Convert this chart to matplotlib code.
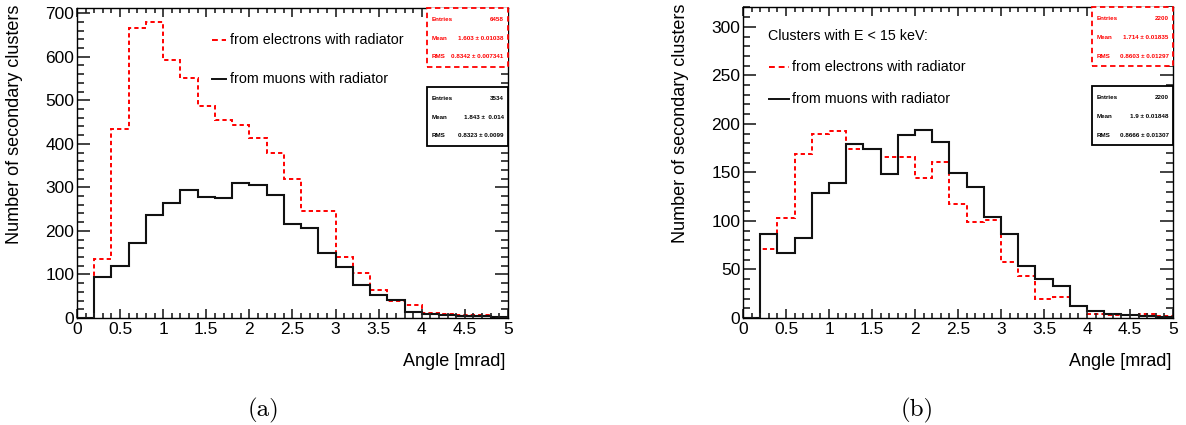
"""Secondary cluster angle distributions, electrons vs muons with radiator."""

import matplotlib

matplotlib.use("Agg")
import matplotlib.pyplot as plt
import numpy as np
from matplotlib.patches import Rectangle
from matplotlib.ticker import MultipleLocator

plt.rcParams["font.family"] = ["Liberation Sans", "DejaVu Sans"]

# -- Data ---------------------------------------------------------------------
BIN_EDGES = np.round(np.arange(0, 5.0001, 0.2), 2)

# (a) all clusters
ELECTRONS_A = [0, 136, 435, 666, 679, 593, 552, 487, 454, 443, 413, 378, 319,
               246, 246, 140, 103, 65, 40, 29, 11, 9, 7, 6, 2]
MUONS_A = [0, 93, 120, 172, 236, 264, 295, 279, 275, 311, 305, 283, 217,
           207, 150, 116, 76, 53, 41, 14, 10, 7, 4, 4, 2]

# (b) clusters with E < 15 keV
ELECTRONS_B = [0, 71, 103, 169, 190, 193, 174, 174, 166, 166, 144, 161, 117,
               99, 101, 58, 43, 20, 22, 12, 4, 3, 3, 4, 2]
MUONS_B = [0, 87, 67, 82, 129, 139, 179, 174, 148, 189, 194, 181, 149,
           135, 104, 87, 54, 40, 33, 12, 7, 4, 3, 2, 1]

STATS_E_A = [("Entries", "6458"), ("Mean", "1.603 \u00b1 0.01038"), ("RMS", "0.8342 \u00b1 0.007341")]
STATS_M_A = [("Entries", "3534"), ("Mean", "1.843 \u00b1  0.014"), ("RMS", "0.8323 \u00b1 0.0099")]
STATS_E_B = [("Entries", "2200"), ("Mean", "1.714 \u00b1 0.01835"), ("RMS", "0.8603 \u00b1 0.01297")]
STATS_M_B = [("Entries", "2200"), ("Mean", "1.9 \u00b1 0.01848"), ("RMS", "0.8666 \u00b1 0.01307")]

RED = "#ff0000"


def stat_box(ax, y0, y1, rows, color, dashed):
    x0 = 0.812
    ax.add_patch(Rectangle((x0, y0), 1.0 - x0, y1 - y0, transform=ax.transAxes,
                           facecolor="white", edgecolor=color, lw=1.3,
                           linestyle=(0, (3, 2)) if dashed else "-",
                           clip_on=False, zorder=5))
    h = y1 - y0
    for i, (name, val) in enumerate(rows):
        yy = y1 - h * (0.19 + 0.32 * i)
        ax.text(x0 + 0.01, yy, name, transform=ax.transAxes, fontsize=4.5,
                fontweight="bold", color=color, ha="left", va="center", zorder=6)
        ax.text(0.99, yy, val, transform=ax.transAxes, fontsize=4.5,
                fontweight="bold", color=color, ha="right", va="center", zorder=6)


def style_axes(ax, ymax, ymajor, yminor):
    ax.set_xlim(0, 5)
    ax.set_ylim(0, ymax)
    ax.xaxis.set_major_locator(MultipleLocator(0.5))
    ax.xaxis.set_minor_locator(MultipleLocator(0.1))
    ax.yaxis.set_major_locator(MultipleLocator(ymajor))
    ax.yaxis.set_minor_locator(MultipleLocator(yminor))
    ax.xaxis.set_major_formatter(matplotlib.ticker.FuncFormatter(lambda v, p: f"{v:g}"))
    ax.tick_params(which="both", direction="in", top=True, right=True,
                   labelsize=12.5, color="#222222", width=1.2)
    ax.tick_params(axis="y", which="major", length=9.4, pad=2)
    ax.tick_params(axis="y", which="minor", length=4.7)
    ax.tick_params(axis="x", which="major", length=6.7, pad=3)
    ax.tick_params(axis="x", which="minor", length=3.4)
    for sp in ax.spines.values():
        sp.set_linewidth(1.0)
    ax.text(0.995, -0.139, "Angle [mrad]", transform=ax.transAxes,
            fontsize=13, ha="right", va="center")
    ax.text(-0.145, 1.01, "Number of secondary clusters", transform=ax.transAxes,
            fontsize=13, rotation=90, ha="center", va="top")


def legend_entry(ax, x0, x1, y, label, color, dashed):
    ax.plot([x0, x1], [y, y], transform=ax.transAxes, color=color, lw=1.4,
            linestyle=(0, (3, 2)) if dashed else "-")
    ax.text(x1 + 0.008, y, label, transform=ax.transAxes, fontsize=10.3,
            ha="left", va="center")


fig = plt.figure(figsize=(11.86, 4.25), dpi=100)
ax_a = fig.add_axes([0.0649, 0.2518, 0.3634, 0.7294])
ax_b = fig.add_axes([0.6265, 0.2518, 0.3626, 0.7318])

# -- (a) ----------------------------------------------------------------------
ax_a.stairs(ELECTRONS_A, BIN_EDGES, color=RED, lw=1.4, linestyle=(0, (2.2, 1.6)))
ax_a.stairs(MUONS_A, BIN_EDGES, color="#111111", lw=1.5)
style_axes(ax_a, 712, 100, 20)
legend_entry(ax_a, 0.313, 0.346, 0.897, "from electrons with radiator", RED, True)
legend_entry(ax_a, 0.313, 0.346, 0.771, "from muons with radiator", "#111111", False)
stat_box(ax_a, 0.81, 1.0, STATS_E_A, RED, True)
stat_box(ax_a, 0.555, 0.745, STATS_M_A, "black", False)

# -- (b) ----------------------------------------------------------------------
ax_b.stairs(ELECTRONS_B, BIN_EDGES, color=RED, lw=1.4, linestyle=(0, (2.2, 1.6)))
ax_b.stairs(MUONS_B, BIN_EDGES, color="#111111", lw=1.5)
style_axes(ax_b, 320.5, 50, 10)
ax_b.text(0.058, 0.907, "Clusters with E < 15 keV:", transform=ax_b.transAxes,
          fontsize=10.3, ha="left", va="center")
legend_entry(ax_b, 0.060, 0.107, 0.807, "from electrons with radiator", RED, True)
legend_entry(ax_b, 0.060, 0.107, 0.704, "from muons with radiator", "#111111", False)
stat_box(ax_b, 0.81, 1.0, STATS_E_B, RED, True)
stat_box(ax_b, 0.555, 0.745, STATS_M_B, "black", False)

# -- captions -----------------------------------------------------------------
fig.text(263 / 1186, 1 - 410 / 425, "(a)", fontfamily="cmr10", fontsize=18,
         ha="center", va="center")
fig.text(917 / 1186, 1 - 410 / 425, "(b)", fontfamily="cmr10", fontsize=18,
         ha="center", va="center")

fig.savefig("out.png", dpi=100)
